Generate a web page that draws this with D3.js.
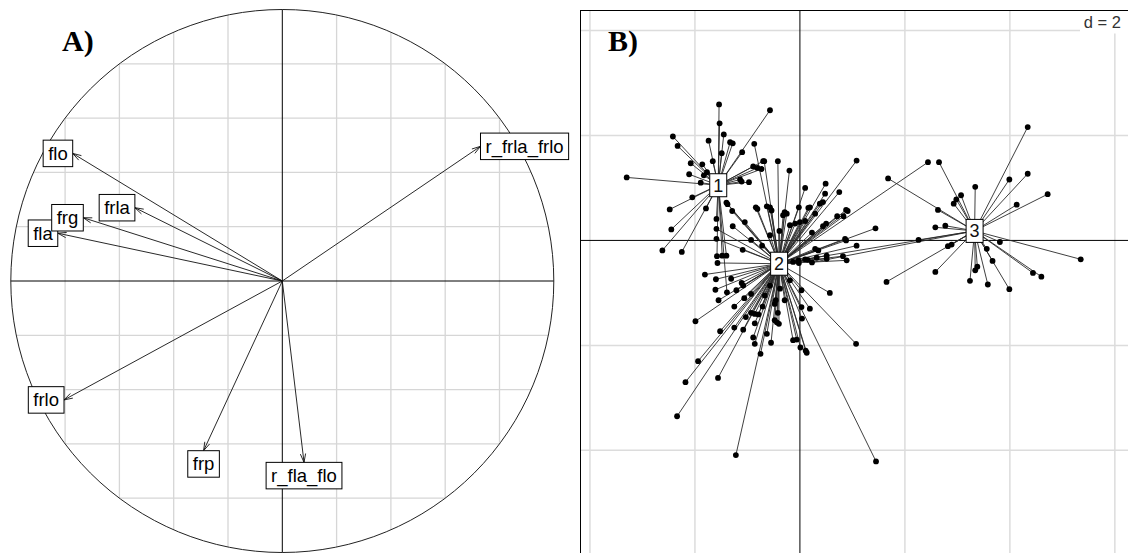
<!DOCTYPE html>
<html><head><meta charset="utf-8">
<script src="https://cdn.jsdelivr.net/npm/d3@7"></script>
<style>html,body{margin:0;padding:0;background:#fff;} svg{display:block}</style>
</head><body>
<svg id="chart" width="1128" height="553"></svg>
<script>
// ---------- Panel A: correlation circle ----------
const varNames = ["flo", "frla", "fla", "frg", "r_frla_frlo", "frlo", "frp", "r_fla_flo"];
const corAxis1 = [-0.772, -0.543, -0.827, -0.733, 0.730, -0.804, -0.290, 0.080];
const corAxis2 = [0.470, 0.270, 0.176, 0.233, 0.496, -0.438, -0.625, -0.668];
const gridTicksA = [-0.8, -0.6, -0.4, -0.2, 0.2, 0.4, 0.6, 0.8];

// ---------- Panel B: class scatter ----------
const classLabels = ["1", "2", "3"];
const classCenterX = [-1.556, -0.396, 3.328];
const classCenterY = [1.051, -0.444, 0.181];
const class1X = [-1.54,-0.57,-1.53,-2.42,-2.33,-1.74,-1.45,-1.33,-1.28,-1.49,-1.10,-3.30,-2.08,-1.86,-2.11,-1.83,-2.05,-2.48,-1.79,-2.45,-2.62,-2.25,-1.66,-1.14,-1.11,-0.89,-0.81,-0.73,-0.97,-0.70,-1.48,-1.40,-1.58,-1.39,-1.59,-1.89,-1.77];
const class1Y = [2.59,2.48,2.23,1.98,1.80,1.90,2.02,1.87,1.85,1.66,1.68,1.20,1.47,1.45,1.26,1.24,0.82,0.59,0.61,0.21,-0.19,-0.22,1.51,1.16,1.12,1.41,1.38,1.36,1.11,1.51,-0.29,-0.29,-0.30,-0.99,0.41,1.10,1.30];
const class2X = [-0.87,-0.68,-0.42,-0.20,1.08,-1.40,-1.29,-1.05,-0.84,-0.81,-0.63,-0.57,-0.54,0.10,0.49,0.48,0.75,0.44,0.38,0.16,-0.02,-0.29,-0.25,-0.32,-0.39,0.00,0.10,0.29,0.88,0.91,0.71,0.50,0.44,0.86,1.08,-0.93,-1.09,0.29,0.35,0.51,0.51,0.89,0.82,-0.02,1.44,2.44,-1.59,-1.59,-1.38,-0.09,-1.28,-1.57,-1.81,-1.31,-1.61,-1.21,-1.55,-1.08,-1.60,-1.06,-0.93,-1.25,-1.99,-1.52,-1.25,-1.08,-1.03,-0.86,-0.79,-0.93,-0.86,-0.89,-0.86,-0.63,-0.55,-0.75,-1.94,-2.18,-1.56,-2.34,-1.22,-0.48,-0.44,-0.42,0.57,0.03,0.19,0.03,0.04,-0.38,-0.46,-0.48,-0.40,-0.13,-0.06,0.01,0.11,0.13,1.07,1.45,0.15,0.32,-0.03,-0.13,-0.71,-0.19,-0.57,-0.29,-0.67,-1.11,0.19,0.83,0.88,-0.19,0.23,-0.57,-0.72];
const class2Y = [1.84,1.51,1.51,1.33,1.52,0.72,0.56,0.35,0.63,0.60,0.65,0.63,0.57,1.00,1.08,0.89,0.92,0.73,0.70,0.62,0.63,0.54,0.51,0.48,0.18,0.35,0.37,0.51,0.58,0.56,0.46,0.32,0.27,0.03,-0.10,0.01,-0.18,-0.16,-0.19,-0.29,-0.35,-0.38,-0.30,-0.43,0.23,1.49,0.22,0.03,0.69,0.32,0.27,-0.43,-0.65,-0.73,-0.94,-0.95,-1.14,-0.86,-0.74,-1.10,-1.02,-1.26,-1.54,-1.73,-1.66,-1.70,-1.46,-1.40,-1.41,-1.38,-1.58,-1.85,-1.97,-1.78,-1.95,-2.16,-2.30,-2.70,-2.62,-3.35,-4.09,-1.21,-1.56,-1.38,-1.00,-0.95,-1.30,-1.27,-1.49,-0.92,-1.14,-1.52,-1.59,-1.90,-1.89,-2.04,-2.10,-2.14,-1.97,-4.21,-0.37,-0.33,-0.38,-0.41,-1.26,-0.76,-0.86,-1.14,-1.05,-0.81,0.63,0.46,0.00,0.29,0.15,0.10,-0.10];
const class3X = [4.34,2.65,1.68,3.34,3.99,4.34,4.72,4.13,3.07,2.98,2.93,2.63,2.58,2.77,2.26,2.82,2.89,2.58,1.65,3.24,3.34,3.38,3.58,3.56,3.67,3.99,3.81,4.44,4.60,5.35,0.10,0.23];
const class3Y = [2.16,1.49,1.18,1.02,1.16,1.27,0.88,0.68,0.86,0.78,0.70,0.58,0.25,0.28,0.01,-0.11,-0.08,-0.60,-0.79,-0.77,-0.57,-0.50,-0.84,-0.16,-0.39,-0.93,-0.03,-0.62,-0.69,-0.36,-0.36,-0.42];
const gridTicksB = [-4, -2, 2, 4, 6];
const scaleLabel = "d = 2";

const svg = d3.select("#chart");
const sans = "'Liberation Sans', Arial, sans-serif";
const serif = "'Liberation Serif', 'Times New Roman', serif";

// ===== Panel A =====
const xA = d3.scaleLinear().domain([-1, 1]).range([10.8, 553.8]);
const yA = d3.scaleLinear().domain([-1, 1]).range([552.5, 9.5]);
const gA = svg.append("g");
const gridCol = "#d6d6d6";
gridTicksA.forEach(t => {
  const h = Math.sqrt(1 - t * t);
  gA.append("line").attr("x1", xA(-h)).attr("x2", xA(h)).attr("y1", yA(t)).attr("y2", yA(t))
    .attr("stroke", gridCol).attr("stroke-width", 1.3);
  gA.append("line").attr("x1", xA(t)).attr("x2", xA(t)).attr("y1", yA(-h)).attr("y2", yA(h))
    .attr("stroke", gridCol).attr("stroke-width", 1.3);
});
gA.append("line").attr("x1", xA(-1)).attr("x2", xA(1)).attr("y1", yA(0)).attr("y2", yA(0))
  .attr("stroke", "#000").attr("stroke-width", 1);
gA.append("line").attr("x1", xA(0)).attr("x2", xA(0)).attr("y1", yA(-1)).attr("y2", yA(1))
  .attr("stroke", "#000").attr("stroke-width", 1);
gA.append("circle").attr("cx", xA(0)).attr("cy", yA(0)).attr("r", xA(1) - xA(0))
  .attr("fill", "none").attr("stroke", "#222").attr("stroke-width", 1);

gA.append("text").attr("x", 62).attr("y", 51).text("A)")
  .attr("font-family", serif).attr("font-weight", "bold").attr("font-size", 30).attr("fill", "#000");

varNames.forEach((name, i) => {
  const x0 = xA(0), y0 = yA(0), x1 = xA(corAxis1[i]), y1 = yA(corAxis2[i]);
  gA.append("line").attr("x1", x0).attr("y1", y0).attr("x2", x1).attr("y2", y1)
    .attr("stroke", "#111").attr("stroke-width", 0.9);
  const ang = Math.atan2(y1 - y0, x1 - x0), L = 9, a = 17 * Math.PI / 180;
  [ang + Math.PI - a, ang + Math.PI + a].forEach(t => {
    gA.append("line").attr("x1", x1).attr("y1", y1)
      .attr("x2", x1 + L * Math.cos(t)).attr("y2", y1 + L * Math.sin(t))
      .attr("stroke", "#111").attr("stroke-width", 0.9);
  });
});
varNames.forEach((name, i) => {
  const x1 = xA(corAxis1[i]), y1 = yA(corAxis2[i]);
  const txt = gA.append("text").text(name).attr("font-family", sans).attr("font-size", 18.5)
    .attr("fill", "#000");
  const tw = txt.node().getComputedTextLength();
  const w = tw + 10, h = 26.5;
  let cx, cy;
  if (Math.abs(corAxis1[i]) >= Math.abs(corAxis2[i])) {
    cy = y1;
    cx = corAxis1[i] < 0 ? x1 - w / 2 : x1 + w / 2;
  } else {
    cx = x1;
    cy = corAxis2[i] < 0 ? y1 + h / 2 : y1 - h / 2;
  }
  gA.insert("rect", () => txt.node()).attr("x", cx - w / 2).attr("y", cy - h / 2)
    .attr("width", w).attr("height", h).attr("fill", "#fff").attr("stroke", "#000").attr("stroke-width", 1);
  txt.attr("x", cx).attr("y", cy + 6.5).attr("text-anchor", "middle");
});

// ===== Panel B =====
const bx0 = 580.5, by0 = 10.5, bsize = 548;
const xB = d3.scaleLinear().domain([-4.18, 6.26]).range([bx0, bx0 + bsize]);
const yB = d3.scaleLinear().domain([-6.06, 4.38]).range([by0 + bsize, by0]);
svg.append("defs").append("clipPath").attr("id", "clipB").append("rect")
  .attr("x", bx0).attr("y", by0).attr("width", bsize).attr("height", bsize);
const gB = svg.append("g").attr("clip-path", "url(#clipB)");
gB.append("rect").attr("x", bx0).attr("y", by0).attr("width", bsize).attr("height", bsize).attr("fill", "#fff");
gridTicksB.forEach(t => {
  gB.append("line").attr("x1", xB(t)).attr("x2", xB(t)).attr("y1", by0).attr("y2", by0 + bsize)
    .attr("stroke", "#dcdcdc").attr("stroke-width", 1.5);
  gB.append("line").attr("x1", bx0).attr("x2", bx0 + bsize).attr("y1", yB(t)).attr("y2", yB(t))
    .attr("stroke", "#dcdcdc").attr("stroke-width", 1.5);
});
gB.append("line").attr("x1", xB(0)).attr("x2", xB(0)).attr("y1", by0).attr("y2", by0 + bsize)
  .attr("stroke", "#000").attr("stroke-width", 1);
gB.append("line").attr("x1", bx0).attr("x2", bx0 + bsize).attr("y1", yB(0)).attr("y2", yB(0))
  .attr("stroke", "#000").attr("stroke-width", 1);

const classes = [
  { xs: class1X, ys: class1Y },
  { xs: class2X, ys: class2Y },
  { xs: class3X, ys: class3Y }
];
classes.forEach((c, k) => {
  c.xs.forEach((x, j) => {
    gB.append("line").attr("x1", xB(classCenterX[k])).attr("y1", yB(classCenterY[k]))
      .attr("x2", xB(x)).attr("y2", yB(c.ys[j])).attr("stroke", "#2a2a2a").attr("stroke-width", 0.9);
  });
});
classes.forEach((c, k) => {
  c.xs.forEach((x, j) => {
    gB.append("circle").attr("cx", xB(x)).attr("cy", yB(c.ys[j])).attr("r", 2.9).attr("fill", "#000");
  });
});
classLabels.forEach((lab, k) => {
  const cx = xB(classCenterX[k]), cy = yB(classCenterY[k]);
  gB.append("rect").attr("x", cx - 8.5).attr("y", cy - 11.5).attr("width", 17).attr("height", 23)
    .attr("fill", "#fff").attr("stroke", "#000").attr("stroke-width", 1);
  gB.append("text").attr("x", cx).attr("y", cy + 6.5).attr("text-anchor", "middle")
    .attr("font-family", sans).attr("font-size", 18).attr("fill", "#111").text(lab);
});
// scale box
gB.append("rect").attr("x", 1080).attr("y", by0).attr("width", 60).attr("height", 23).attr("fill", "#fff");
gB.append("text").attr("x", 1121).attr("y", 28).attr("text-anchor", "end")
  .attr("font-family", sans).attr("font-size", 16.5).attr("fill", "#333").text(scaleLabel);
gB.append("text").attr("x", 608).attr("y", 51).text("B)")
  .attr("font-family", serif).attr("font-weight", "bold").attr("font-size", 30).attr("fill", "#000");
svg.append("rect").attr("x", bx0).attr("y", by0).attr("width", bsize).attr("height", bsize)
  .attr("fill", "none").attr("stroke", "#000").attr("stroke-width", 1);
</script>
</body></html>
